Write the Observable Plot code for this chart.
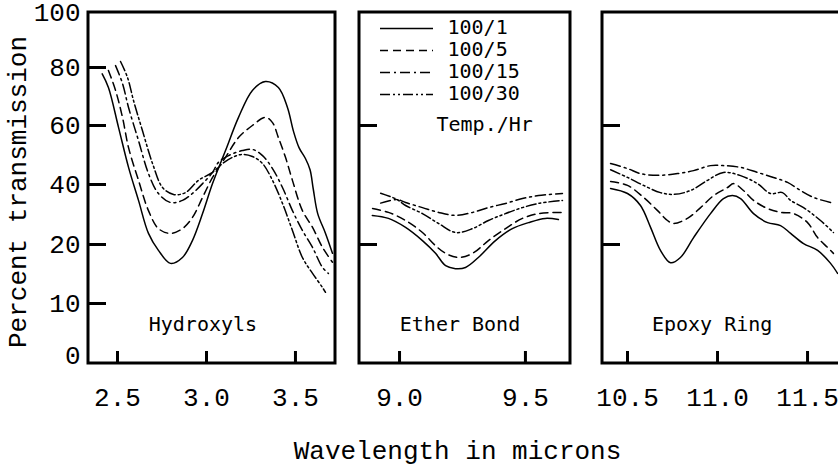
<!DOCTYPE html>
<html><head><meta charset="utf-8">
<script src="https://cdn.jsdelivr.net/npm/d3@7"></script>
<script src="https://cdn.jsdelivr.net/npm/@observablehq/plot@0.6"></script>
<style>
html,body{margin:0;padding:0;background:#fff;}
#chart{position:relative;width:838px;height:466px;overflow:hidden;background:#fff;}
#chart svg{position:absolute;left:0;top:0;}
</style></head><body><div id="chart"></div>
<script>
// ---- categories / labels ----
const seriesNames = ["100/1", "100/5", "100/15", "100/30"];   // Temp./Hr
const panelNames = ["Hydroxyls", "Ether Bond", "Epoxy Ring"];
const panelRanges = [[2.337, 3.725], [8.841, 9.679], [10.361, 11.75]]; // wavelength span of each panel
const panelLabelX = [2.98, 9.24, 10.97];
const xTickValues = [2.5, 3.0, 3.5, 9.0, 9.5, 10.5, 11.0, 11.5];
const yTickValues = [0, 10, 20, 40, 60, 80, 100];
const panelYTicks = [[10, 20, 40, 60, 80], [20, 60], [20, 60]];

// ---- series values: [wavelength (microns), percent transmission] ----
const hydroxyls_100_1 = [[2.414,77.8],[2.449,73.1],[2.506,59.3],[2.562,45.8],[2.618,34.7],[2.674,23.7],[2.730,19.0],[2.798,16.8],[2.865,17.8],[2.921,21.3],[2.978,30.3],[3.034,40.3],[3.107,51.5],[3.180,62.8],[3.258,72.1],[3.331,75.2],[3.404,73.1],[3.455,66.2],[3.489,58.0],[3.520,52.5],[3.556,48.8],[3.582,45.0],[3.600,38.5],[3.625,30.3],[3.669,23.7],[3.708,18.5]];
const hydroxyls_100_5 = [[2.449,79.0],[2.489,72.1],[2.528,62.8],[2.562,52.5],[2.618,41.4],[2.674,31.3],[2.730,25.3],[2.798,23.7],[2.865,25.3],[2.921,29.0],[2.978,35.7],[3.034,42.4],[3.107,49.2],[3.180,55.9],[3.258,60.0],[3.331,62.8],[3.371,61.0],[3.404,55.9],[3.444,49.2],[3.483,41.4],[3.539,31.3],[3.596,25.7],[3.652,19.5],[3.708,17.0]];
const hydroxyls_100_15 = [[2.489,80.7],[2.528,74.5],[2.562,66.2],[2.618,54.9],[2.674,43.7],[2.730,37.0],[2.798,34.0],[2.865,34.7],[2.921,37.0],[2.978,40.3],[3.034,44.1],[3.067,47.5],[3.124,49.8],[3.202,51.5],[3.258,51.9],[3.315,49.8],[3.371,45.4],[3.427,39.0],[3.483,31.3],[3.539,24.7],[3.596,19.5],[3.652,16.1],[3.685,15.1]];
const hydroxyls_100_30 = [[2.517,82.2],[2.556,76.6],[2.590,68.6],[2.640,58.3],[2.697,47.1],[2.753,39.0],[2.815,36.7],[2.882,37.3],[2.955,41.4],[3.034,44.1],[3.090,47.1],[3.146,49.2],[3.202,50.2],[3.258,49.5],[3.315,47.1],[3.371,41.4],[3.427,33.7],[3.483,24.7],[3.539,17.8],[3.596,15.1],[3.652,12.7],[3.669,11.9]];

const ether_100_1 = [[8.892,29.7],[8.956,28.7],[9.024,25.7],[9.091,21.3],[9.143,18.5],[9.183,16.4],[9.222,15.9],[9.262,16.1],[9.313,17.8],[9.381,21.3],[9.448,25.3],[9.512,27.3],[9.579,28.7],[9.631,28.3]];
const ether_100_5 = [[8.893,32.0],[8.956,30.7],[9.024,28.0],[9.091,24.0],[9.143,19.8],[9.183,18.5],[9.234,17.8],[9.290,18.5],[9.353,21.3],[9.421,25.3],[9.488,28.7],[9.552,30.3],[9.647,30.7]];
const ether_100_15 = [[8.925,33.8],[8.990,35.0],[9.024,34.0],[9.091,32.3],[9.155,30.7],[9.222,29.7],[9.290,30.7],[9.353,32.3],[9.421,33.7],[9.488,35.3],[9.552,36.3],[9.647,37.0]];
const ether_100_30 = [[8.925,37.1],[8.990,35.0],[9.024,33.0],[9.091,30.3],[9.155,27.0],[9.222,24.0],[9.290,25.3],[9.353,28.0],[9.421,30.3],[9.488,32.3],[9.552,33.7],[9.647,34.7]];

const epoxy_100_1 = [[10.406,38.7],[10.500,37.0],[10.572,33.0],[10.628,25.7],[10.683,19.0],[10.739,16.9],[10.794,17.8],[10.867,22.3],[10.961,30.3],[11.033,35.3],[11.083,36.3],[11.128,35.3],[11.200,30.3],[11.278,27.3],[11.350,26.3],[11.406,23.7],[11.478,20.3],[11.556,19.0],[11.628,16.8],[11.667,15.1]];
const epoxy_100_5 = [[10.406,41.0],[10.500,39.7],[10.589,35.7],[10.667,31.3],[10.722,28.0],[10.756,27.0],[10.833,28.7],[10.906,32.3],[10.978,36.3],[11.056,39.0],[11.089,40.3],[11.144,38.0],[11.200,34.7],[11.278,32.0],[11.350,30.7],[11.422,30.3],[11.500,27.3],[11.556,22.3],[11.611,19.5],[11.644,18.5]];
const epoxy_100_15 = [[10.406,47.1],[10.500,45.4],[10.572,43.7],[10.667,43.1],[10.778,43.7],[10.867,44.7],[10.961,46.4],[11.033,46.4],[11.128,45.8],[11.222,44.1],[11.311,42.4],[11.389,40.7],[11.461,38.0],[11.533,35.7],[11.628,34.0]];
const epoxy_100_30 = [[10.406,45.0],[10.500,42.4],[10.589,39.7],[10.683,37.3],[10.756,36.7],[10.850,38.0],[10.944,41.4],[11.033,44.1],[11.128,43.0],[11.222,40.3],[11.294,37.0],[11.361,37.3],[11.406,34.7],[11.478,32.3],[11.572,28.0],[11.644,24.0]];

const seriesByPanel = [
  [hydroxyls_100_1, ether_100_1, epoxy_100_1],
  [hydroxyls_100_5, ether_100_5, epoxy_100_5],
  [hydroxyls_100_15, ether_100_15, epoxy_100_15],
  [hydroxyls_100_30, ether_100_30, epoxy_100_30]
];
const dashes = [null, "8,5", "10,4,2,4", "10,3,2,3,2,3"];

// ---- tables built from the arrays ----
const rows = seriesByPanel.flatMap((panels, si) =>
  panels.flatMap((pts, pi) => pts.map(([x, y]) => ({series: seriesNames[si], panel: panelNames[pi], x, y}))));
const tickRows = panelYTicks.flatMap((ts, pi) => ts.map(y => ({lo: panelRanges[pi][0], y})));

const mono = "'Liberation Mono', 'Courier New', monospace";
const gothic = "'DejaVu Sans Mono', monospace";
const W = 838, H = 466, mTop = 12, mBottom = 103, mLeft = 88;

const chart = Plot.plot({
  width: W, height: H,
  marginTop: mTop, marginBottom: mBottom, marginLeft: mLeft, marginRight: 0,
  style: {fontFamily: mono, background: "white", color: "black"},
  x: {type: "linear", domain: [2.337, 3.725, 8.841, 9.679, 10.361, 11.672], range: [88, 335, 359, 570, 602, 838], label: null},
  y: {type: "linear", domain: yTickValues, range: [355, 303, 244, 184, 125, 67, 12.5], label: null},
  marks: [
    ...seriesNames.map((s, i) => Plot.line(rows.filter(d => d.series === s), {
      x: "x", y: "y", z: "panel", curve: "catmull-rom",
      stroke: "black", strokeWidth: 1.5, strokeDasharray: dashes[i] ?? undefined
    })),
    Plot.rect(panelRanges, {x1: d => d[0], x2: d => d[1], fill: "none", stroke: "black", strokeWidth: 3}),
    Plot.ruleX(xTickValues, {x: d => d, insetTop: H - mTop - mBottom - 12, stroke: "black", strokeWidth: 3}),
    Plot.ruleY(tickRows, {y: "y", x1: "lo", x2: "lo", insetRight: -18, stroke: "black", strokeWidth: 3}),
    Plot.axisY(yTickValues, {anchor: "left", tickSize: 0, tickPadding: 8, fontSize: 26, label: null}),
    Plot.axisX(xTickValues, {anchor: "bottom", tickSize: 0, tickPadding: 24, fontSize: 26, tickFormat: d => d.toFixed(1), label: null}),
    Plot.text(panelNames, {x: (d, i) => panelLabelX[i], text: d => d, frameAnchor: "bottom", dy: -33, fontSize: 20, fontFamily: gothic}),
    Plot.text(["Percent transmission"], {text: d => d, frameAnchor: "left", textAnchor: "middle", rotate: -90, dx: -71, dy: 4, fontSize: 26}),
    Plot.text(["Wavelength in microns"], {text: d => d, frameAnchor: "bottom", textAnchor: "middle", dx: -6, dy: 95, fontSize: 26})
  ]
});

const legend = Plot.plot({
  width: 200, height: 145,
  marginTop: 28, marginBottom: 51, marginLeft: 20, marginRight: 127,
  style: {fontFamily: gothic, background: "transparent", color: "black"},
  x: {domain: [0, 1], axis: null},
  y: {type: "point", domain: seriesNames, padding: 0, axis: null},
  marks: [
    ...seriesNames.map((s, i) => Plot.ruleY([s], {y: d => d, x1: 0, x2: 1, stroke: "black", strokeWidth: 1.5, strokeDasharray: dashes[i] ?? undefined})),
    Plot.text(seriesNames, {x: 1, y: d => d, text: d => d, dx: 14, dy: -1, textAnchor: "start", fontSize: 20}),
    Plot.text(["Temp./Hr"], {text: d => d, frameAnchor: "bottom-right", dx: 3, dy: 36, textAnchor: "start", fontSize: 20})
  ]
});
legend.style.left = "360px";
legend.style.top = "0px";

const root = document.getElementById("chart");
root.append(chart, legend);
</script>
</body></html>
